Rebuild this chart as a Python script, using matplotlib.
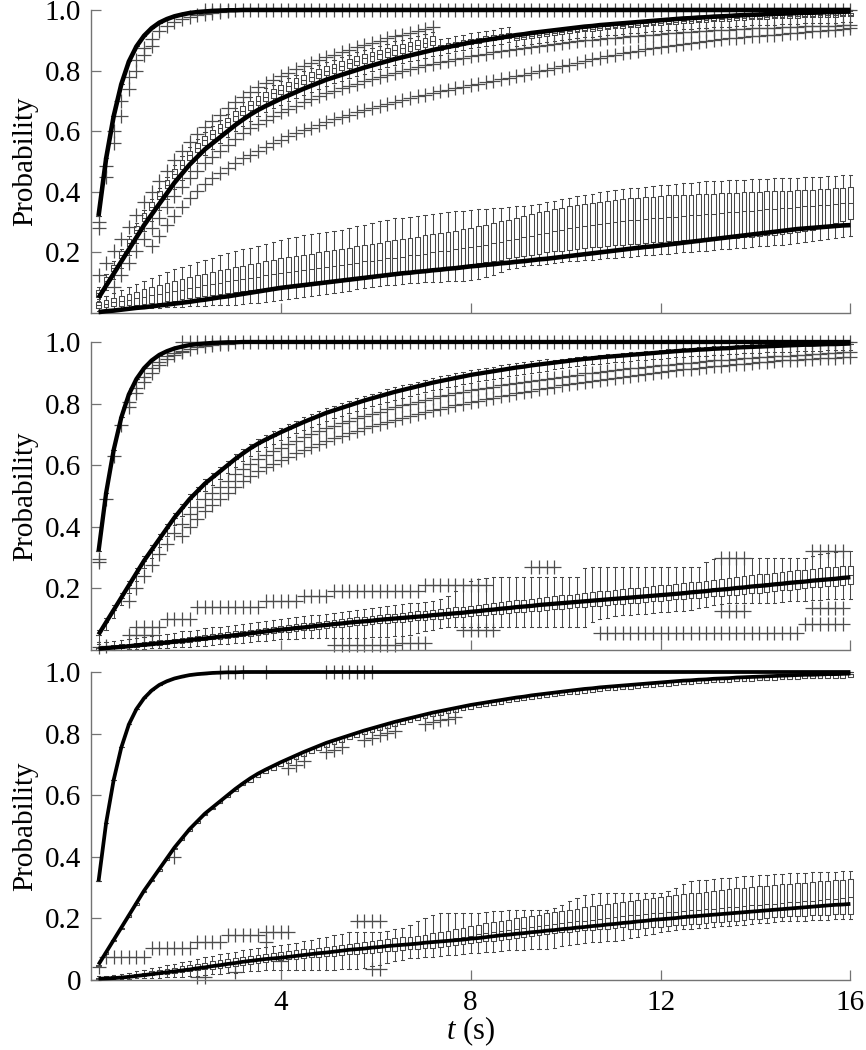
import numpy as np
import matplotlib
matplotlib.use('Agg')
import matplotlib.pyplot as plt

plt.rcParams['font.family'] = 'Liberation Serif'
plt.rcParams['mathtext.fontset'] = 'custom'
plt.rcParams['mathtext.it'] = 'Liberation Serif:italic'
plt.rcParams['mathtext.rm'] = 'Liberation Serif'

N = 100
t = np.arange(1, N + 1) * 0.16  # sample times, s

# all values below are probabilities x 1000, one per sample time

# model curves (thick black lines)
fast_line = [320, 510, 650, 755, 830, 880, 915, 940, 958, 970,
             979, 985, 990, 993, 995, 997, 998, 999, 999] + [1000] * 81
mid_line = [50, 90, 130, 170, 210, 250, 290, 325, 360, 395,
            430, 460, 490, 515, 540, 560, 580, 600, 620, 638,
            655, 670, 683, 695, 707, 718, 729, 740, 750, 760,
            770, 778, 786, 794, 802, 810, 817, 824, 831, 838,
            844, 850, 856, 862, 868, 873, 878, 883, 888, 893,
            897, 901, 905, 909, 913, 917, 920, 924, 927, 930,
            933, 936, 939, 942, 945, 947, 950, 952, 954, 956,
            958, 960, 962, 964, 966, 968, 970, 972, 973, 975,
            976, 978, 979, 980, 982, 983, 984, 985, 986, 987,
            988, 989, 990, 991, 991, 992, 993, 993, 994, 995]
p1_slow_line = [3, 6, 8, 11, 14, 17, 19, 22, 25, 28,
                31, 34, 37, 41, 44, 48, 52, 55, 59, 63,
                67, 71, 75, 79, 83, 86, 89, 92, 95, 98,
                101, 104, 107, 110, 113, 116, 119, 122, 125, 128,
                131, 133, 136, 138, 141, 143, 146, 148, 151, 154,
                156, 159, 161, 164, 166, 169, 171, 174, 177, 179,
                182, 185, 188, 191, 194, 197, 200, 203, 206, 209,
                212, 215, 218, 220, 223, 226, 229, 232, 235, 238,
                241, 244, 247, 250, 253, 256, 259, 262, 265, 268,
                271, 274, 277, 279, 281, 283, 285, 287, 289, 290]
p2_slow_line = [4, 6, 8, 10, 12, 15, 17, 19, 22, 24,
                27, 29, 32, 35, 37, 40, 43, 45, 48, 51,
                54, 57, 60, 63, 66, 68, 71, 73, 76, 79,
                81, 84, 86, 89, 91, 93, 95, 98, 100, 102,
                104, 106, 108, 110, 113, 115, 117, 119, 121, 124,
                126, 129, 131, 134, 136, 139, 141, 143, 146, 148,
                150, 152, 154, 156, 158, 160, 162, 164, 166, 168,
                170, 172, 174, 176, 178, 180, 182, 184, 187, 189,
                191, 194, 196, 198, 201, 203, 206, 208, 210, 213,
                215, 218, 220, 222, 225, 227, 229, 231, 234, 236]
p3_slow_line = [4, 5, 6, 8, 10, 13, 16, 19, 22, 25,
                28, 31, 34, 38, 41, 45, 48, 52, 55, 59,
                62, 65, 68, 70, 72, 75, 78, 81, 84, 87,
                89, 92, 95, 98, 100, 102, 105, 107, 110, 112,
                114, 116, 118, 121, 123, 125, 127, 129, 131, 134,
                136, 139, 142, 145, 147, 150, 152, 155, 157, 160,
                162, 165, 167, 170, 172, 175, 177, 180, 182, 185,
                187, 190, 192, 195, 197, 199, 201, 204, 206, 208,
                210, 212, 214, 216, 218, 220, 222, 224, 226, 228,
                230, 232, 234, 236, 238, 240, 242, 244, 245, 247]

# ---- panel 1, slow series boxes
p1_slow_q1 = [18, 20, 22, 24, 26, 28, 30, 32, 34, 38,
              41, 45, 49, 53, 57, 60, 64, 67, 70, 73,
              77, 80, 82, 84, 86, 88, 91, 94, 97, 100,
              102, 105, 108, 111, 114, 117, 120, 123, 126, 129,
              132, 135, 138, 141, 144, 147, 150, 153, 156, 160,
              164, 168, 172, 176, 180, 184, 188, 192, 196, 200,
              203, 206, 209, 212, 215, 217, 219, 221, 223, 225,
              227, 229, 231, 233, 235, 237, 238, 240, 241, 242,
              244, 245, 246, 248, 249, 250, 252, 254, 256, 258,
              260, 263, 266, 270, 275, 282, 290, 298, 305, 310]
p1_slow_med = [28, 31, 35, 40, 44, 49, 54, 59, 63, 68,
               72, 77, 82, 86, 91, 96, 100, 104, 108, 112,
               116, 120, 124, 128, 132, 136, 140, 143, 146, 150,
               153, 156, 160, 163, 166, 170, 173, 176, 180, 183,
               186, 190, 193, 196, 200, 203, 206, 210, 213, 217,
               221, 225, 230, 235, 240, 245, 250, 255, 260, 265,
               270, 275, 280, 284, 288, 292, 295, 298, 301, 304,
               306, 308, 310, 312, 314, 316, 318, 320, 322, 324,
               326, 328, 330, 332, 334, 336, 338, 340, 342, 344,
               346, 348, 350, 352, 354, 356, 358, 360, 362, 364]
p1_slow_q3 = [37, 42, 48, 55, 62, 70, 78, 86, 93, 100,
              106, 112, 118, 124, 130, 136, 141, 146, 151, 156,
              161, 166, 171, 175, 180, 184, 188, 192, 196, 200,
              204, 208, 212, 216, 220, 224, 228, 232, 236, 240,
              244, 248, 252, 256, 260, 264, 268, 272, 277, 282,
              287, 292, 297, 302, 308, 314, 320, 326, 332, 338,
              343, 348, 352, 356, 360, 364, 367, 370, 373, 376,
              378, 380, 382, 384, 386, 388, 389, 390, 391, 392,
              393, 394, 395, 396, 397, 398, 399, 400, 401, 402,
              403, 404, 405, 406, 407, 408, 410, 412, 414, 416]
p1_slow_lo = [5, 8, 10, 12, 14, 15, 16, 17, 18, 19,
              20, 21, 22, 23, 24, 25, 26, 27, 28, 30,
              32, 34, 37, 40, 43, 46, 49, 52, 55, 58,
              62, 66, 70, 74, 78, 82, 85, 88, 91, 94,
              96, 98, 100, 101, 102, 103, 104, 105, 106, 108,
              112, 118, 125, 135, 145, 150, 154, 157, 160, 163,
              166, 168, 170, 172, 174, 176, 178, 180, 182, 184,
              186, 188, 190, 192, 194, 196, 198, 200, 202, 204,
              206, 208, 210, 212, 214, 216, 218, 220, 222, 224,
              226, 228, 230, 233, 236, 240, 244, 248, 252, 255]
p1_slow_hi = [45, 55, 65, 75, 85, 95, 105, 115, 125, 135,
              145, 152, 160, 168, 176, 183, 190, 197, 204, 210,
              216, 222, 228, 234, 240, 246, 252, 258, 262, 265,
              268, 271, 275, 280, 286, 292, 298, 303, 308, 312,
              315, 318, 321, 324, 327, 330, 333, 336, 338, 340,
              342, 344, 346, 348, 350, 352, 354, 356, 360, 365,
              370, 375, 380, 385, 390, 394, 398, 402, 405, 408,
              411, 414, 417, 420, 422, 424, 426, 428, 430, 432,
              434, 436, 437, 438, 439, 440, 441, 442, 443, 444,
              445, 446, 447, 448, 449, 450, 451, 452, 454, 456]

# ---- panel 1, medium series boxes
p1_mid_q1 = [52, 95, 138, 180, 222, 263, 305, 341, 377, 412,
             445, 475, 505, 530, 555, 575, 595, 615, 635, 653,
             670, 685, 698, 710, 722, 733, 744, 755, 765, 775,
             785, 793, 801, 809, 817, 825, 832, 839, 846, 853,
             859, 865, 871, 877, 883, 868, 873, 878, 883, 888,
             892, 896, 900, 904, 908, 902, 905, 909, 912, 915,
             918, 921, 924, 927, 930, 932, 935, 937, 939, 941,
             943, 945, 947, 949, 951, 953, 955, 957, 958, 960,
             961, 963, 964, 965, 967, 968, 969, 970, 971, 972,
             973, 974, 975, 976, 976, 977, 978, 978, 979, 980]
p1_mid_med = [65, 107, 148, 190, 232, 273, 315, 351, 387, 423,
              460, 490, 520, 545, 570, 590, 610, 630, 650, 668,
              685, 700, 713, 725, 737, 748, 759, 770, 780, 790,
              800, 808, 816, 824, 832, 840, 847, 854, 861, 868,
              874, 880, 886, 892, 898, 878, 883, 888, 893, 898,
              902, 906, 910, 914, 918, 907, 910, 914, 917, 920,
              923, 926, 929, 932, 935, 937, 940, 942, 944, 946,
              948, 950, 952, 954, 956, 958, 960, 962, 963, 965,
              966, 968, 969, 970, 972, 973, 974, 975, 976, 977,
              978, 979, 980, 981, 981, 982, 983, 983, 984, 985]
p1_mid_q3 = [75, 118, 160, 203, 245, 287, 329, 366, 402, 438,
             475, 505, 535, 560, 585, 605, 625, 645, 665, 683,
             700, 715, 728, 740, 752, 763, 774, 785, 795, 805,
             815, 823, 831, 839, 847, 855, 862, 869, 876, 883,
             889, 895, 901, 907, 913, 885, 890, 895, 900, 905,
             909, 913, 917, 921, 925, 913, 916, 920, 923, 926,
             929, 932, 935, 938, 941, 943, 946, 948, 950, 952,
             954, 956, 958, 960, 962, 964, 966, 968, 969, 971,
             972, 974, 975, 976, 978, 979, 980, 981, 982, 983,
             984, 985, 986, 987, 987, 988, 989, 989, 990, 991]
p1_mid_lo = [40, 75, 112, 150, 190, 230, 270, 305, 340, 375,
             410, 440, 470, 495, 520, 540, 560, 580, 600, 618,
             635, 650, 663, 675, 687, 698, 709, 720, 730, 740,
             750, 758, 766, 774, 782, 790, 797, 804, 811, 818,
             824, 830, 836, 842, 848, 853, 858, 863, 868, 873,
             877, 881, 885, 889, 893, 882, 885, 889, 892, 895,
             898, 901, 904, 907, 910, 912, 915, 917, 919, 921,
             923, 925, 927, 929, 931, 933, 935, 937, 938, 940,
             941, 943, 944, 945, 947, 948, 949, 950, 951, 952,
             953, 954, 955, 956, 956, 957, 958, 958, 959, 960]
p1_mid_hi = [85, 128, 170, 212, 255, 297, 340, 377, 414, 450,
             488, 518, 548, 573, 598, 618, 638, 658, 678, 696,
             713, 728, 741, 753, 765, 776, 787, 798, 808, 818,
             828, 836, 844, 852, 860, 868, 875, 882, 889, 896,
             902, 908, 914, 920, 926, 903, 908, 913, 918, 923,
             927, 931, 935, 939, 943, 917, 920, 924, 927, 930,
             933, 936, 939, 942, 945, 947, 950, 952, 954, 956,
             958, 960, 962, 964, 966, 968, 970, 972, 973, 975,
             976, 978, 979, 980, 982, 983, 984, 985, 986, 987,
             988, 989, 990, 991, 991, 992, 993, 993, 994, 995]

# outliers: (first sample index, values)
p1_fast_out = [(1, [300, 485, 600, 700, 780, 835, 875, 905, 930, 948,
                    960, 970, 978, 984, 988, 991, 994, 996]),
               (1, [280, 450, 560, 650, 740, 800, 850, 880])]
p1_mid_out = [(1, [125, 165, 205, 245, 285, 325, 365, 400, 435, 470,
                   505, 535, 565, 590, 615, 635, 655, 675, 695, 713,
                   730, 745, 758, 770, 782, 793, 804, 815, 825, 835,
                   845, 853, 861, 869, 877, 885, 892, 899, 906, 913,
                   919, 925, 931, 937, 943]),
              (15, [1000] * 86),
              (3, [85, 125, 165, 205, 245, 280, 315, 350,
                   385, 415, 445, 470, 495, 515, 535, 555, 575, 593,
                   610, 625, 638, 650, 662, 673, 684, 695, 705, 715,
                   725, 733, 741, 749, 757, 765, 772, 779, 786, 793,
                   799, 805, 811, 817, 823, 828, 833, 838, 843, 848,
                   852, 856, 860, 864, 868, 872, 875, 879, 882, 885,
                   888, 891, 894, 897, 900, 902, 905, 907, 909, 911,
                   913, 915, 917, 919, 921, 923, 925, 927, 928, 930,
                   931, 933, 934, 935, 937, 938, 939, 940, 941, 942,
                   943, 944, 945, 946, 946, 947, 948, 948, 949, 950]),
              (8, [220, 255, 290,
                   320, 350, 378, 402, 425, 445, 463, 480, 495, 510,
                   523, 536, 548, 560, 572, 583, 593, 603, 612, 621,
                   630, 639, 647, 655, 663, 670, 677, 684, 691, 697,
                   703, 709, 715, 721, 727, 732, 737, 742, 747, 752,
                   757, 762, 767, 772, 777, 782, 787, 792, 797, 802,
                   808, 814, 820, 826, 832, 838, 843, 848, 853, 858,
                   862, 866, 870, 874, 878, 882, 885, 888, 891, 894,
                   897, 900, 903, 906, 909, 911, 913, 915, 917, 919,
                   921, 923, 925, 927, 929, 931, 933, 935, 937, 940])]

# ---- panel 2
p2_mid_hi = [65, 105, 145, 185, 225, 265, 305, 340, 375, 410,
             445, 475, 505, 530, 555, 575, 595, 615, 635, 653,
             670, 685, 698, 710, 722, 733, 744, 755, 765, 775,
             785, 793, 801, 809, 817, 825, 832, 839, 846, 853,
             859, 865, 871, 877, 883, 888, 893, 898, 903, 908,
             912, 916, 920, 924, 928, 932, 935, 939, 942, 945,
             941, 944, 947, 950, 953, 955, 958, 960, 962, 964,
             966, 968, 970, 972, 974, 976, 978, 980, 981, 983,
             984, 986, 987, 988, 990, 991, 992, 993, 994, 995,
             996, 997, 998, 999, 999, 1000, 1000, 1000, 1000, 1000]
p2_mid_lo = [25, 65, 105, 145, 185, 225, 265, 300, 335, 370,
             405, 435, 465, 490, 515, 535, 555, 575, 595, 613,
             630, 645, 658, 670, 682, 693, 704, 715, 725, 735,
             745, 753, 761, 769, 777, 785, 792, 799, 806, 813,
             819, 825, 831, 837, 843, 848, 853, 858, 863, 868,
             872, 876, 880, 884, 888, 892, 895, 899, 902, 905,
             913, 916, 919, 922, 925, 927, 930, 932, 934, 936,
             938, 940, 942, 944, 946, 948, 950, 952, 953, 955,
             956, 958, 959, 960, 962, 963, 964, 965, 966, 967,
             968, 969, 970, 971, 971, 972, 973, 973, 974, 975]
p2_slow_q1 = [1, 3, 5, 7, 9, 11, 13, 15, 17, 19,
              22, 24, 27, 29, 31, 34, 36, 38, 41, 44,
              46, 49, 52, 55, 57, 59, 62, 64, 66, 69,
              71, 73, 75, 78, 80, 82, 84, 86, 88, 90,
              92, 94, 96, 98, 100, 102, 104, 106, 108, 110,
              112, 114, 116, 118, 120, 122, 124, 126, 128, 130,
              132, 134, 136, 138, 140, 142, 144, 146, 148, 150,
              152, 154, 156, 158, 160, 162, 164, 166, 168, 170,
              172, 174, 176, 178, 180, 182, 184, 186, 189, 191,
              194, 196, 199, 201, 203, 205, 207, 209, 211, 213]
p2_slow_med = [5, 7, 10, 12, 14, 17, 19, 22, 24, 27,
               30, 32, 35, 38, 40, 43, 46, 48, 51, 54,
               57, 60, 63, 66, 69, 71, 74, 76, 79, 82,
               84, 87, 89, 92, 94, 96, 98, 101, 103, 105,
               107, 109, 111, 113, 116, 118, 120, 122, 125, 128,
               130, 133, 135, 138, 140, 143, 145, 147, 150, 152,
               154, 156, 158, 160, 163, 165, 167, 169, 171, 173,
               175, 177, 180, 182, 184, 186, 188, 190, 193, 195,
               197, 200, 202, 204, 207, 209, 212, 214, 216, 219,
               221, 224, 226, 228, 231, 233, 235, 237, 240, 242]
p2_slow_q3 = [10, 13, 15, 18, 20, 23, 26, 28, 31, 33,
              36, 39, 42, 45, 48, 51, 54, 57, 60, 63,
              66, 69, 72, 75, 78, 81, 84, 86, 89, 92,
              95, 98, 100, 103, 106, 108, 110, 113, 116, 118,
              121, 123, 126, 128, 131, 134, 136, 139, 141, 144,
              147, 150, 152, 155, 158, 161, 163, 166, 169, 172,
              174, 177, 180, 182, 185, 188, 190, 193, 195, 198,
              200, 202, 205, 207, 210, 212, 215, 217, 220, 222,
              225, 228, 231, 233, 236, 239, 242, 245, 248, 250,
              253, 256, 258, 261, 263, 266, 268, 270, 272, 274]
p2_slow_lo = [0, 0, 0, 1, 2, 3, 4, 5, 6, 7,
              8, 9, 10, 12, 14, 16, 18, 20, 22, 24,
              26, 28, 30, 32, 34, 36, 37, 38, 39, 40,
              40, 40, 40, 40, 40, 40, 41, 42, 43, 44,
              45, 50, 55, 60, 65, 70, 75, 76, 76, 76,
              76, 76, 76, 76, 76, 76, 76, 76, 76, 76,
              76, 76, 76, 76, 76, 90, 100, 105, 110, 112,
              114, 116, 118, 120, 122, 124, 126, 128, 130, 135,
              140, 145, 150, 152, 152, 152, 152, 152, 152, 152,
              155, 158, 160, 160, 162, 162, 164, 164, 165, 165]
p2_slow_hi = [20, 25, 30, 33, 36, 40, 43, 46, 50, 53,
              56, 60, 63, 66, 70, 73, 76, 79, 82, 85,
              88, 91, 94, 97, 100, 103, 106, 109, 112, 115,
              118, 121, 124, 127, 130, 133, 136, 139, 142, 145,
              148, 151, 154, 157, 160, 165, 175, 190, 210, 225,
              232, 235, 237, 237, 237, 237, 237, 237, 237, 237,
              237, 237, 237, 237, 265, 268, 270, 270, 270, 270,
              270, 270, 270, 270, 270, 270, 270, 270, 270, 270,
              285, 295, 300, 300, 300, 300, 300, 300, 300, 300,
              300, 300, 300, 300, 305, 310, 315, 318, 320, 322]

p2_fast_out = [(1, [295, 490, 630, 730, 805, 850, 885, 915, 935, 955,
                    965, 972, 978, 983, 987, 990, 993, 995]),
               (1, [285, None, None, None, 790, 835, 870, 900, 925, 945, 958, 967])]
p2_mid_out = [(12, [1000] * 89),
              (5, [160, 200, 240, 275, 310, 345,
                   380, 410, 440, 465, 490, 510, 530, 550, 570, 588,
                   605, 620, 633, 645, 657, 668, 679, 690, 700, 710,
                   720, 728, 736, 744, 752, 760, 767, 774, 781, 788,
                   794, 800, 806, 812, 818, 823, 828, 833, 838, 843,
                   847, 851, 855, 859, 863, 867, 870, 874, 877, 880,
                   884, 887, 891, 894, 898, 900, 904, 906, 909, 911,
                   914, 916, 919, 921, 924, 926, 929, 931, 933, 935,
                   937, 940, 941, 943, 945, 947, 948, 950, 952, 953,
                   955, 956, 958, 959, 960, 962, 963, 964, 966, 967]),
              (12, [370, 400, 425, 450, 470, 490, 510, 530, 548,
                    565, 580, 593, 605, 617, 628, 639, 650, 660, 670,
                    680, 688, 696, 704, 712, 720, 727, 734, 741, 748,
                    754, 760, 766, 772, 778, 783, 789, 794, 799, 804,
                    809, 814, 818, 823, 828, 833, 837, 842, 846, 850,
                    855, 859, 863, 867, 871, 874, 878, 881, 884, 887,
                    890, 893, 896, 899, 902, 905, 908, 911, 913, 916,
                    918, 921, 923, 925, 928, 930, 932, 934, 936, 938,
                    940, 941, 943, 945, 946, 947, 948, 949, 950, 950])]
p2_slow_out = [(1, [10, 12]), (5, [50] * 4), (6, [75] * 4), (10, [100] * 4),
               (14, [140] * 9), (23, [160] * 5), (28, [175] * 4), (32, [190] * 12),
               (44, [210] * 9), (58, [270] * 4), (83, [300] * 4), (95, [320] * 5),
               (32, [15] * 9), (41, [22] * 4), (49, [65] * 5), (67, [55] * 27),
               (94, [85] * 6), (83, [125] * 4), (95, [135] * 5)]

# ---- panel 3
p3_mid_box_lo = [45, 85, 125, 165, 205, 245, 285, 320, 355, 390,
                 425, 455, 485, 510, 535, 555, 575, 595, 615, 633,
                 643, 658, 671, 683, 695, 706, 717, 728, 738, 748,
                 758, 766, 774, 782, 790, 798, 805, 812, 819, 826,
                 832, 838, 844, 850, 856, 861, 866, 871, 876, 881,
                 885, 889, 893, 897, 901, 905, 908, 912, 915, 918,
                 921, 924, 927, 930, 933, 935, 938, 940, 942, 944,
                 946, 948, 950, 952, 954, 956, 958, 960, 961, 963,
                 964, 966, 967, 968, 970, 971, 972, 973, 974, 975,
                 976, 977, 978, 979, 979, 980, 981, 981, 982, 983]
p3_slow_q1 = [4, 5, 6, 8, 10, 12, 14, 16, 18, 20,
              22, 25, 28, 31, 34, 37, 40, 43, 46, 50,
              53, 56, 59, 62, 65, 67, 69, 71, 73, 75,
              77, 79, 81, 83, 85, 87, 89, 91, 93, 95,
              97, 99, 101, 103, 105, 107, 110, 113, 116, 119,
              122, 125, 128, 131, 134, 137, 140, 143, 146, 149,
              152, 155, 157, 159, 161, 163, 165, 167, 169, 171,
              165, 167, 169, 171, 173, 175, 177, 179, 181, 183,
              185, 187, 189, 191, 193, 195, 197, 199, 201, 203,
              205, 207, 208, 209, 210, 211, 212, 213, 214, 215]
p3_slow_med = [6, 7, 9, 11, 13, 16, 19, 22, 25, 28,
               31, 34, 38, 41, 45, 48, 52, 55, 59, 62,
               65, 68, 71, 74, 77, 80, 82, 85, 88, 90,
               93, 95, 98, 100, 102, 105, 107, 110, 112, 115,
               117, 120, 122, 125, 127, 130, 133, 136, 140, 144,
               148, 152, 156, 160, 163, 166, 169, 172, 175, 178,
               181, 184, 187, 190, 193, 196, 199, 202, 205, 208,
               210, 212, 214, 216, 218, 220, 222, 224, 226, 228,
               230, 232, 234, 236, 238, 240, 242, 244, 246, 248,
               250, 252, 254, 256, 258, 260, 262, 264, 266, 268]
p3_slow_q3 = [8, 10, 12, 14, 17, 20, 24, 28, 32, 36,
              40, 44, 48, 52, 56, 60, 64, 68, 72, 75,
              78, 81, 84, 87, 90, 93, 96, 99, 102, 105,
              108, 111, 114, 117, 120, 123, 126, 129, 132, 135,
              138, 141, 144, 147, 151, 155, 160, 165, 170, 175,
              180, 184, 188, 192, 196, 200, 204, 208, 212, 216,
              220, 224, 228, 232, 236, 240, 244, 248, 251, 254,
              257, 260, 263, 266, 269, 272, 275, 278, 281, 284,
              287, 290, 293, 296, 298, 300, 302, 304, 306, 308,
              310, 312, 314, 316, 318, 320, 322, 324, 326, 328]
p3_slow_lo = [2, 2, 3, 3, 4, 5, 6, 7, 8, 9,
              10, 11, 12, 14, 16, 18, 20, 22, 24, 26,
              28, 30, 32, 32, 32, 32, 32, 32, 32, 32,
              32, 33, 34, 35, 37, 40, 45, 50, 55, 60,
              65, 70, 72, 74, 76, 78, 80, 82, 84, 86,
              88, 90, 92, 94, 96, 97, 98, 99, 100, 102,
              105, 110, 115, 118, 120, 122, 124, 126, 128, 130,
              135, 140, 145, 150, 155, 160, 162, 164, 166, 168,
              170, 172, 174, 176, 178, 180, 182, 184, 186, 188,
              190, 191, 192, 193, 194, 195, 196, 197, 198, 199]
p3_slow_hi = [12, 14, 17, 20, 24, 28, 33, 38, 43, 48,
              53, 58, 63, 68, 73, 78, 83, 88, 92, 96,
              100, 103, 106, 110, 113, 117, 120, 125, 130, 135,
              140, 145, 150, 155, 157, 157, 157, 157, 160, 165,
              170, 180, 190, 200, 210, 217, 217, 217, 217, 217,
              217, 220, 223, 225, 227, 227, 227, 227, 227, 227,
              235, 245, 255, 265, 275, 280, 282, 282, 282, 282,
              282, 282, 282, 282, 282, 290, 300, 310, 320, 325,
              325, 328, 330, 332, 335, 337, 338, 340, 342, 344,
              345, 346, 347, 348, 349, 350, 351, 352, 353, 354]

p3_fast_out = []
p3_mid_out = [(17, [1000] * 4), (23, [1000]), (31, [1000] * 7),
              (11, [400]), (26, [688, 699, 710]), (31, [740, 748, 756]),
              (36, [780, 787, 794, 801, 808]), (44, [832, 838, 843, 848, 853])]
p3_slow_out = [(2, [76] * 6), (8, [104] * 6), (14, [124] * 4), (18, [146] * 5),
               (23, [157] * 4), (35, [190] * 4), (23, [124]),
               (1, [43]), (14, [10] * 2), (19, [27]), (25, [60]), (37, [36] * 2)]


def outliers(rows):
    out = [[] for _ in range(N)]
    for k0, vals in rows:
        for j, v in enumerate(vals):
            if v is not None:
                out[k0 - 1 + j].append(v / 1000)
    return out


grey = '0.28'
props = dict(color=grey, lw=0.75)


def draw(ax, line, q1, med, q3, lo, hi, out_rows, lw):
    fl = outliers(out_rows)
    stats = []
    for i in range(N):
        stats.append({'q1': q1[i] / 1000, 'med': med[i] / 1000, 'q3': q3[i] / 1000,
                      'whislo': lo[i] / 1000, 'whishi': hi[i] / 1000,
                      'fliers': fl[i]})
    arts = ax.bxp(stats, positions=t, widths=0.1, capwidths=0.07, manage_ticks=False,
                  boxprops=props, medianprops=props, whiskerprops=props, capprops=props,
                  flierprops=dict(marker='+', markersize=10, markeredgecolor='0.3',
                                  markeredgewidth=0.9, linestyle='none'))
    for group in arts.values():
        for a in group:
            a.set_clip_on(False)
    ax.plot(t, np.array(line) / 1000, color='black', lw=lw, zorder=5,
            clip_on=False, solid_capstyle='butt')


fig = plt.figure(figsize=(8.66, 10.5), dpi=100)
rects = [(0.105, 0.7019, 0.877, 0.2886),
         (0.105, 0.3810, 0.877, 0.2933),
         (0.105, 0.0667, 0.877, 0.2933)]
axes = [fig.add_axes(r) for r in rects]

ax1, ax2, ax3 = axes
# panel 1
draw(ax1, fast_line, fast_line, fast_line, fast_line, fast_line, fast_line, p1_fast_out, 3.3)
draw(ax1, mid_line, p1_mid_q1, p1_mid_med, p1_mid_q3, p1_mid_lo, p1_mid_hi, p1_mid_out, 3.3)
draw(ax1, p1_slow_line, p1_slow_q1, p1_slow_med, p1_slow_q3, p1_slow_lo, p1_slow_hi, [], 3.3)
# panel 2
draw(ax2, fast_line, fast_line, fast_line, fast_line, fast_line, fast_line, p2_fast_out, 3.1)
draw(ax2, mid_line, mid_line, mid_line, mid_line, p2_mid_lo, p2_mid_hi, p2_mid_out, 3.1)
draw(ax2, p2_slow_line, p2_slow_q1, p2_slow_med, p2_slow_q3, p2_slow_lo, p2_slow_hi, p2_slow_out, 3.1)
# panel 3
draw(ax3, fast_line, fast_line, fast_line, fast_line, fast_line, fast_line, p3_fast_out, 2.7)
draw(ax3, mid_line, p3_mid_box_lo, mid_line, mid_line, p3_mid_box_lo, mid_line, p3_mid_out, 2.7)
draw(ax3, p3_slow_line, p3_slow_q1, p3_slow_med, p3_slow_q3, p3_slow_lo, p3_slow_hi, p3_slow_out, 2.7)

for i, ax in enumerate(axes):
    ax.set_xlim(0, 16)
    ax.set_ylim(0, 1)
    for s in ['top', 'right']:
        ax.spines[s].set_visible(False)
    for s in ['left', 'bottom']:
        ax.spines[s].set_color('0.45')
        ax.spines[s].set_linewidth(1.0)
    ax.tick_params(direction='in', length=7, width=0.9, color='0.45',
                   labelcolor='black', labelsize=21, pad=7)
    ax.set_xticks([4, 8, 12, 16])
    if i < 2:
        ax.set_yticks([0.2, 0.4, 0.6, 0.8, 1.0])
        ax.set_yticklabels(['0.2', '0.4', '0.6', '0.8', '1.0'])
        ax.set_xticklabels([])
    else:
        ax.set_yticks([0, 0.2, 0.4, 0.6, 0.8, 1.0])
        ax.set_yticklabels(['0', '0.2', '0.4', '0.6', '0.8', '1.0'])
        ax.set_xticklabels(['4', '8', '12', '16'])
        ax.set_xlabel('$t$ (s)', fontsize=22, labelpad=-1)
    ax.set_ylabel('Probability', fontsize=21, labelpad=5)

fig.savefig('out.png', dpi=100)
